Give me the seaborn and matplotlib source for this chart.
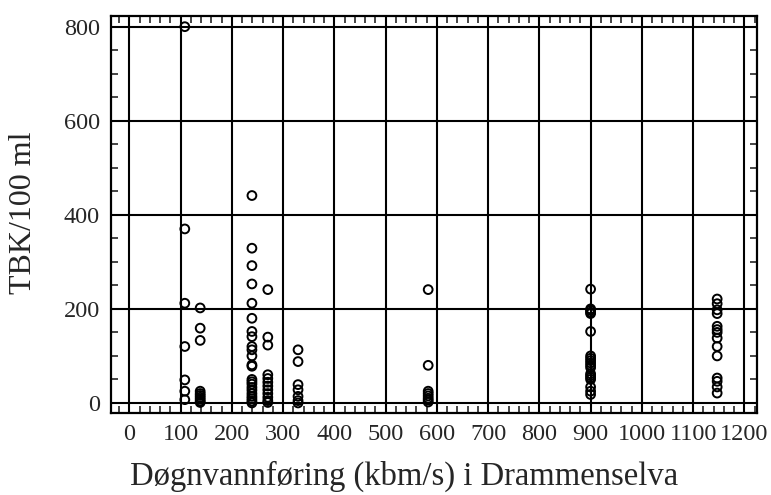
import matplotlib
matplotlib.use('agg')
import matplotlib.pyplot as plt
from matplotlib.ticker import MultipleLocator
import seaborn as sns
import pandas as pd

# daily discharge (kbm/s) for each sampling column, and the TBK values read there
flow_cols = [108, 138, 239, 270, 329, 583, 900, 1147]
tbk_cols = [
    [800, 370, 212, 120, 49, 25, 7],
    [202, 159, 133, 25, 20, 16, 12, 8, 4, 1],
    [441, 329, 292, 253, 212, 180, 152, 141, 120, 113, 100, 81, 78, 50, 45, 40, 33, 27, 20, 14, 9, 4, 0],
    [241, 140, 123, 60, 52, 44, 36, 28, 20, 12, 5, 1],
    [113, 88, 39, 28, 14, 5, 0],
    [241, 80, 25, 20, 15, 10, 6, 2],
    [242, 200, 197, 193, 190, 152, 100, 95, 90, 85, 80, 75, 62, 58, 54, 50, 34, 25, 18],
    [221, 211, 198, 190, 163, 156, 150, 138, 120, 100, 53, 46, 34, 21],
]
x_ticks = [0, 100, 200, 300, 400, 500, 600, 700, 800, 900, 1000, 1100, 1200]
y_ticks = [0, 200, 400, 600, 800]

rows = []
for q, vals in zip(flow_cols, tbk_cols):
    for v in vals:
        rows.append({'flow': q, 'tbk': v})
df = pd.DataFrame(rows)

sns.set_style('white')
plt.rcParams['font.family'] = ['Liberation Serif', 'DejaVu Serif']

fig = plt.figure(figsize=(7.71, 4.95), dpi=100)
ax = fig.add_axes([0.144, 0.166, 0.838, 0.801])

sns.scatterplot(data=df, x='flow', y='tbk', ax=ax, marker='o', s=40,
                facecolors='none', edgecolor='black', linewidth=1.4, zorder=3)

ax.set_xlim(-36, 1225)
ax.set_ylim(-21, 822)
ax.set_xticks(x_ticks)
ax.set_yticks(y_ticks)
ax.xaxis.set_minor_locator(MultipleLocator(20))
ax.yaxis.set_minor_locator(MultipleLocator(50))
ax.grid(True, which='major', color='black', linewidth=1.5)
ax.set_axisbelow(True)
ax.tick_params(which='major', length=0, labelsize=17.5, pad=8)
ax.tick_params(which='minor', direction='in', length=5, width=1.2,
               top=True, right=True, bottom=True, left=True)
for sp in ax.spines.values():
    sp.set_visible(True)
    sp.set_color('black')
    sp.set_linewidth(1.6)

ax.set_xlabel('Døgnvannføring (kbm/s) i Drammenselva', fontsize=23.5)
ax.set_ylabel('TBK/100 ml', fontsize=23)
ax.xaxis.set_label_coords(0.454, -0.12)
ax.yaxis.set_label_coords(-0.113, 0.505)

fig.savefig('out.png', dpi=100)
